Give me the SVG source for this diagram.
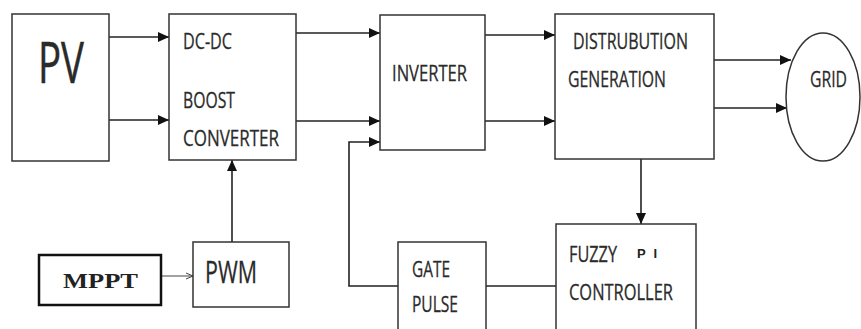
<svg xmlns="http://www.w3.org/2000/svg" width="861" height="329" viewBox="0 0 861 329">
<defs>
<style>
.box{fill:#fff;stroke:#333;stroke-width:1.5}
.t{font-family:"Open Sans","Liberation Sans",sans-serif;font-size:22px;fill:#2a2a2a;stroke:#2a2a2a;stroke-width:0.3}
.c{fill:none;stroke:#222;stroke-width:1.6}
.thin{fill:none;stroke:#444;stroke-width:1}
</style>
<marker id="ah" markerUnits="userSpaceOnUse" markerWidth="12" markerHeight="10" refX="11" refY="5" orient="auto"><path d="M0,0 L11,5 L0,10 Z" fill="#111"/></marker>
<marker id="ahs" markerUnits="userSpaceOnUse" markerWidth="8" markerHeight="8" refX="7" refY="4" orient="auto"><path d="M0,1 L7,4 L0,7" fill="none" stroke="#444" stroke-width="1"/></marker>
</defs>
<rect width="861" height="329" fill="#fff"/>
<g id="connectors">
<line class="c" x1="109" y1="37" x2="169" y2="37" marker-end="url(#ah)"/>
<line class="c" x1="109" y1="120" x2="169" y2="120" marker-end="url(#ah)"/>
<line class="c" x1="296" y1="33" x2="380" y2="33" marker-end="url(#ah)"/>
<line class="c" x1="296" y1="121" x2="380" y2="121" marker-end="url(#ah)"/>
<line class="c" x1="485" y1="35" x2="555" y2="35" marker-end="url(#ah)"/>
<line class="c" x1="485" y1="121" x2="555" y2="121" marker-end="url(#ah)"/>
<line class="c" x1="714" y1="60" x2="791" y2="60" marker-end="url(#ah)"/>
<line class="c" x1="714" y1="108" x2="787" y2="108" marker-end="url(#ah)"/>
<line class="c" x1="232" y1="242" x2="232" y2="160" marker-end="url(#ah)"/>
<line class="thin" x1="161" y1="276" x2="193" y2="276" marker-end="url(#ahs)"/>
<polyline class="c" points="398,286 349,286 349,142 380,142" marker-end="url(#ah)"/>
<line class="c" x1="641" y1="159" x2="641" y2="224" marker-end="url(#ah)"/>
<line class="c" x1="486" y1="286" x2="556" y2="286"/>
</g>
<g id="pv">
<rect class="box" x="12" y="14" width="97" height="147"/>
<text class="t" x="38" y="83" style="font-size:56px;stroke-width:0.5" textLength="46" lengthAdjust="spacingAndGlyphs">PV</text>
</g>
<g id="dcdc">
<rect class="box" x="169" y="14" width="127" height="146"/>
<text class="t" x="183" y="49" textLength="49" lengthAdjust="spacingAndGlyphs">DC-DC</text>
<text class="t" x="183" y="108" textLength="52" lengthAdjust="spacingAndGlyphs">BOOST</text>
<text class="t" x="183" y="146" textLength="96" lengthAdjust="spacingAndGlyphs">CONVERTER</text>
</g>
<g id="inverter">
<rect class="box" x="380" y="15" width="105" height="135"/>
<text class="t" x="392" y="81" textLength="75" lengthAdjust="spacingAndGlyphs">INVERTER</text>
</g>
<g id="dg">
<rect class="box" x="555" y="14" width="159" height="145"/>
<text class="t" x="573" y="49" textLength="115" lengthAdjust="spacingAndGlyphs">DISTRUBUTION</text>
<text class="t" x="568" y="87" textLength="98" lengthAdjust="spacingAndGlyphs">GENERATION</text>
</g>
<g id="grid">
<ellipse class="box" cx="823" cy="97" rx="37" ry="64"/>
<text class="t" x="810" y="87" textLength="37" lengthAdjust="spacingAndGlyphs">GRID</text>
</g>
<g id="mppt">
<rect x="39" y="255" width="122" height="50" fill="#fff" stroke="#111" stroke-width="2.5"/>
<text x="63" y="288" style="font-family:'Liberation Serif',serif;font-size:22px;font-weight:bold;fill:#222" textLength="75" lengthAdjust="spacingAndGlyphs">MPPT</text>
</g>
<g id="pwm">
<rect class="box" x="193" y="242" width="96" height="65"/>
<text class="t" x="205" y="283" style="font-size:31px" textLength="52" lengthAdjust="spacingAndGlyphs">PWM</text>
</g>
<g id="gate">
<rect class="box" x="398" y="242" width="88" height="95"/>
<text class="t" x="412" y="277" textLength="38" lengthAdjust="spacingAndGlyphs">GATE</text>
<text class="t" x="412" y="312" textLength="46" lengthAdjust="spacingAndGlyphs">PULSE</text>
</g>
<g id="fuzzy">
<rect class="box" x="556" y="224" width="140" height="113"/>
<text class="t" x="569" y="262" textLength="48" lengthAdjust="spacingAndGlyphs">FUZZY</text>
<text x="637" y="258" style="font-family:'Liberation Sans',sans-serif;font-size:13px;font-weight:bold;fill:#222" textLength="20" lengthAdjust="spacing">PI</text>
<text class="t" x="569" y="300" textLength="104" lengthAdjust="spacingAndGlyphs">CONTROLLER</text>
</g>
</svg>
